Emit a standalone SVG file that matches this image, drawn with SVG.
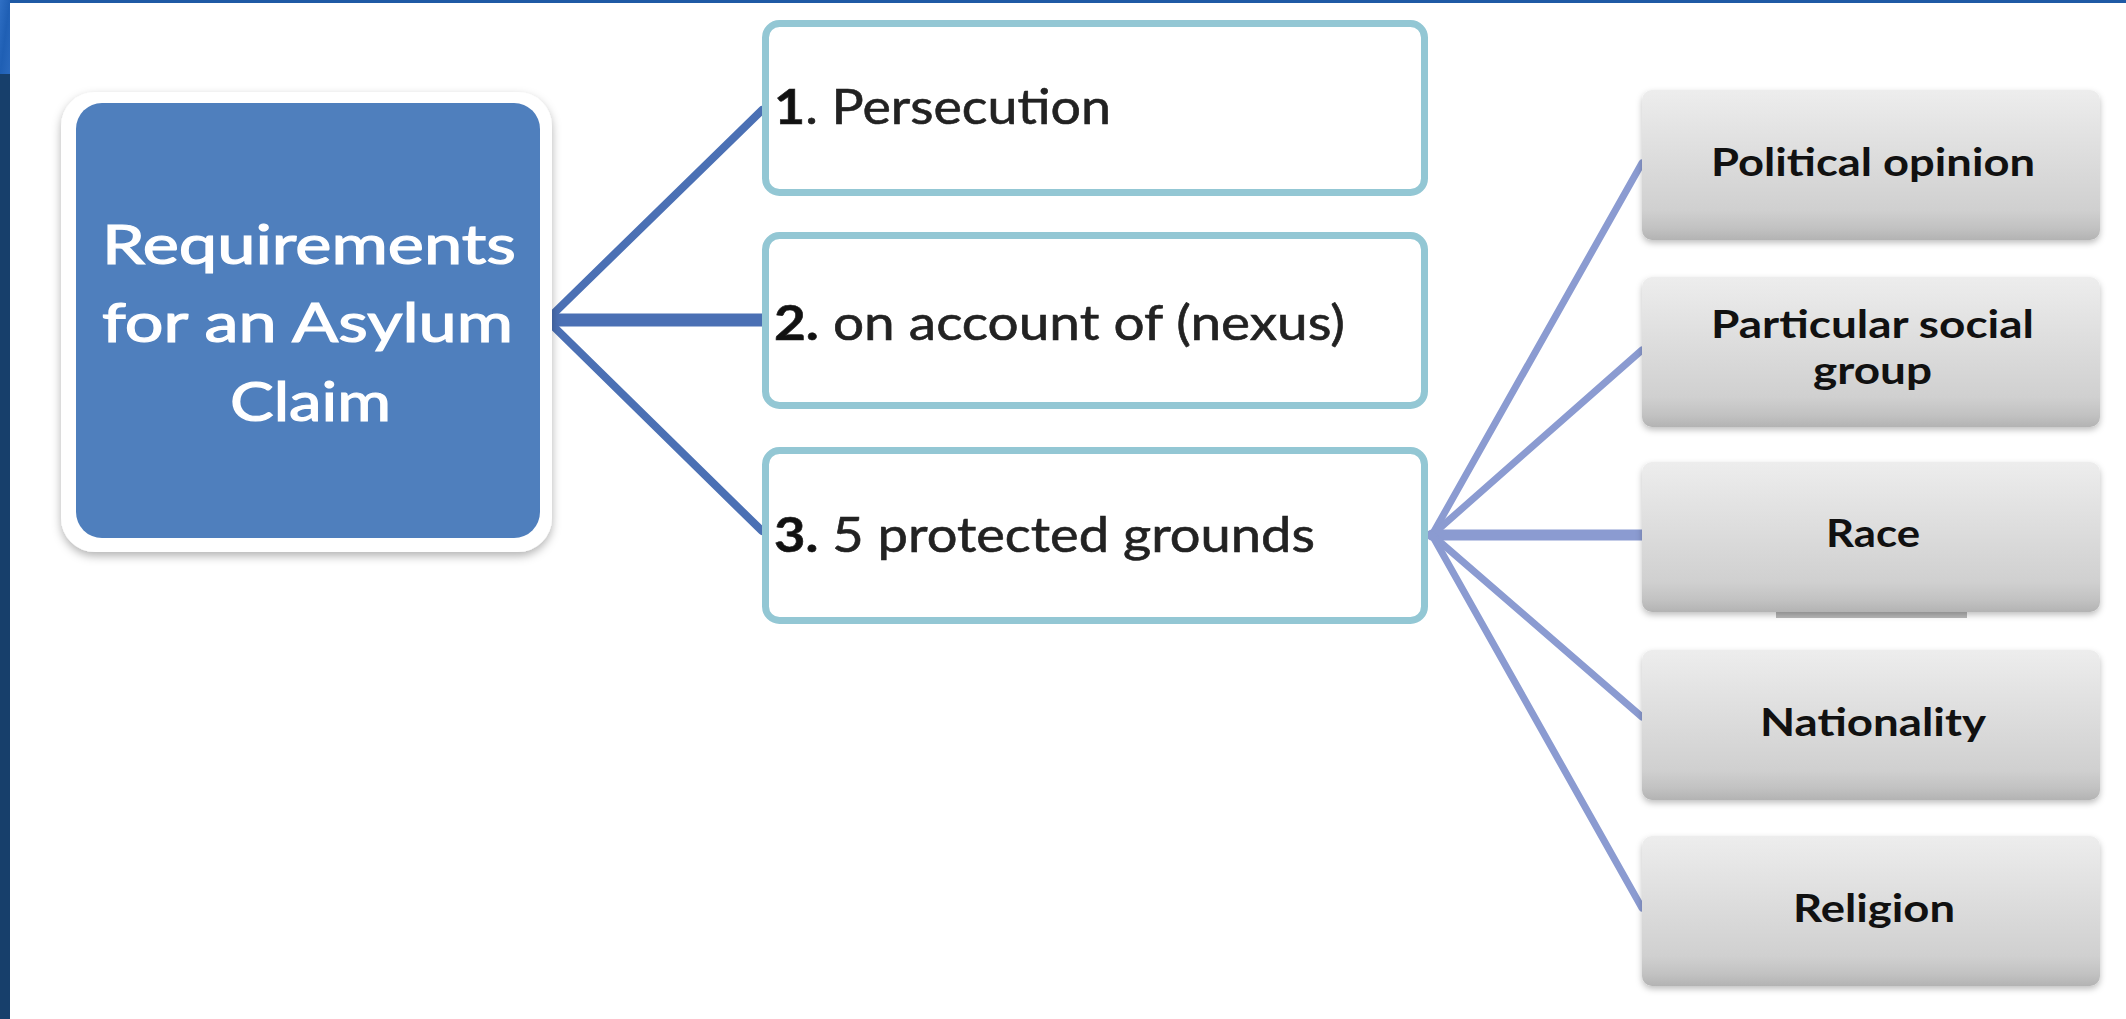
<svg xmlns="http://www.w3.org/2000/svg" width="2126" height="1019" viewBox="0 0 2126 1019">
  <defs>
    <linearGradient id="gray" x1="0" y1="0" x2="0" y2="1">
      <stop offset="0" stop-color="#ededed"/>
      <stop offset="0.8" stop-color="#d0d0d0"/>
      <stop offset="0.92" stop-color="#c2c2c2"/>
      <stop offset="1" stop-color="#b3b3b3"/>
    </linearGradient>
    <linearGradient id="corner" x1="0" y1="0" x2="1" y2="1">
      <stop offset="0" stop-color="#2f6fc4"/>
      <stop offset="0.5" stop-color="#1f5fb4"/>
      <stop offset="1" stop-color="#2a69bd"/>
    </linearGradient>
    <filter id="shadow" x="-10%" y="-10%" width="120%" height="125%">
      <feDropShadow dx="0" dy="4" stdDeviation="5" flood-color="#000" flood-opacity="0.3"/>
    </filter>
    <filter id="gshadow" x="-5%" y="-10%" width="110%" height="125%">
      <feDropShadow dx="0" dy="3" stdDeviation="3" flood-color="#000" flood-opacity="0.25"/>
    </filter>
  </defs>
  <style>
    .main-t { font-family: Lato, "Open Sans", sans-serif; font-size: 54px; fill: #ffffff; stroke: #ffffff; stroke-width: 1.2px; }
    .mid { fill: #ffffff; stroke: #93c7d4; stroke-width: 7; }
    .mid-t { font-family: Lato, "Open Sans", sans-serif; font-size: 48px; fill: #222222; stroke: #222222; stroke-width: 0.6px; }
    .num { font-weight: bold; fill: #111111; }
    .grey { fill: url(#gray); filter: url(#gshadow); }
    .grey-t { font-family: Lato, "Open Sans", sans-serif; font-size: 39px; font-weight: bold; fill: #111111; }
    .c1 { stroke: #4b70b4; fill: none; stroke-linecap: round; }
    .c2 { stroke: #8b9bd1; fill: none; stroke-linecap: round; }
  </style>

  <rect x="0" y="0" width="2126" height="1019" fill="#ffffff"/>
  <!-- frame strips -->
  <rect x="0" y="0" width="2126" height="3" fill="#1f5aa5"/>
  <rect x="0" y="0" width="10" height="1019" fill="#173f6b"/>
  <rect x="0" y="0" width="10" height="74" fill="url(#corner)"/>

  <g id="connectors">
    <line class="c1" x1="547" y1="320" x2="762" y2="110" stroke-width="8"/>
    <line class="c1" x1="547" y1="320" x2="762" y2="320" stroke-width="13"/>
    <line class="c1" x1="547" y1="320" x2="762" y2="531" stroke-width="8"/>
    <line class="c2" x1="1432" y1="535" x2="1642" y2="163" stroke-width="7"/>
    <line class="c2" x1="1432" y1="535" x2="1642" y2="350" stroke-width="7"/>
    <line class="c2" x1="1432" y1="535" x2="1642" y2="535" stroke-width="11"/>
    <line class="c2" x1="1432" y1="535" x2="1642" y2="717" stroke-width="7"/>
    <line class="c2" x1="1432" y1="535" x2="1642" y2="908" stroke-width="7"/>
  </g>

  <g id="main">
    <rect x="61" y="92" width="491" height="460" rx="34" fill="#ffffff" filter="url(#shadow)"/>
    <rect x="76" y="103" width="464" height="435" rx="26" fill="#4f7fbd"/>
    <text class="main-t" x="102" y="264" textLength="414" lengthAdjust="spacingAndGlyphs">Requirements</text>
    <text class="main-t" x="102" y="342" textLength="411" lengthAdjust="spacingAndGlyphs">for an Asylum</text>
    <text class="main-t" x="230" y="421" textLength="161" lengthAdjust="spacingAndGlyphs">Claim</text>
  </g>

  <g id="persecution">
    <rect class="mid" x="765.5" y="23.5" width="659" height="169" rx="14"/>
    <text class="mid-t" x="774" y="124" textLength="337" lengthAdjust="spacingAndGlyphs"><tspan class="num">1</tspan>. Persecution</text>
  </g>
  <g id="nexus">
    <rect class="mid" x="765.5" y="235.5" width="659" height="170" rx="14"/>
    <text class="mid-t" x="774" y="340" textLength="571" lengthAdjust="spacingAndGlyphs"><tspan class="num">2.</tspan> on account of (nexus)</text>
  </g>
  <g id="grounds">
    <rect class="mid" x="765.5" y="450.5" width="659" height="170" rx="14"/>
    <text class="mid-t" x="774" y="552" textLength="541" lengthAdjust="spacingAndGlyphs"><tspan class="num">3.</tspan> 5 protected grounds</text>
  </g>

  <g id="political">
    <rect class="grey" x="1642" y="90" width="458" height="150" rx="10"/>
    <text class="grey-t" x="1711" y="176" textLength="324" lengthAdjust="spacingAndGlyphs">Political opinion</text>
  </g>
  <g id="social-group">
    <rect class="grey" x="1642" y="277" width="458" height="150" rx="10"/>
    <text class="grey-t" x="1711" y="338" textLength="323" lengthAdjust="spacingAndGlyphs">Particular social</text>
    <text class="grey-t" x="1813" y="384" textLength="119" lengthAdjust="spacingAndGlyphs">group</text>
  </g>
  <g id="race">
    <rect x="1776" y="600" width="191" height="18" fill="#b9b9b9"/>
    <rect class="grey" x="1642" y="462" width="458" height="150" rx="10"/>
    <text class="grey-t" x="1826" y="547" textLength="94" lengthAdjust="spacingAndGlyphs">Race</text>
  </g>
  <g id="nationality">
    <rect class="grey" x="1642" y="650" width="458" height="150" rx="10"/>
    <text class="grey-t" x="1760" y="736" textLength="226" lengthAdjust="spacingAndGlyphs">Nationality</text>
  </g>
  <g id="religion">
    <rect class="grey" x="1642" y="836" width="458" height="150" rx="10"/>
    <text class="grey-t" x="1793" y="922" textLength="162" lengthAdjust="spacingAndGlyphs">Religion</text>
  </g>
</svg>
